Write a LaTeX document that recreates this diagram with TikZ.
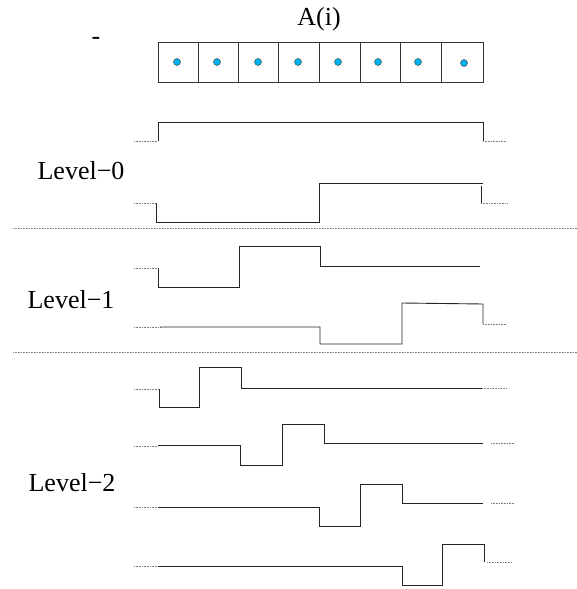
\documentclass[tikz,border=0pt]{standalone}
\usepackage{fontspec}
\setmainfont{Liberation Serif}
\definecolor{dotblue}{RGB}{0,176,240}
\newcommand{\mns}{\symbol{"2212}}
\begin{document}
\begin{tikzpicture}[x=1pt,y=-1pt,
  sig/.style={line width=0.9pt,black!85},
  dots/.style={line width=0.6pt,gray,dash pattern=on 0.8pt off 0.8pt},
  sep/.style={line width=0.6pt,gray,dash pattern=on 0.8pt off 0.8pt},
  lbl/.style={font=\fontsize{26}{30}\selectfont,inner sep=0pt,anchor=base},
  cell/.style={draw=black!80,line width=0.7pt},
  elem/.style={circle,fill=dotblue,draw=black!70,line width=0.5pt,inner sep=0pt,minimum size=7pt}]
\useasboundingbox (0,0) rectangle (577,589);
% array
\node[lbl] (ai) at (319,25) {A(i)};
\node[lbl] (dash) at (96,44) {-};
\draw[cell] (158,42) rectangle (483,82);
\foreach \x in {198,238,278,319,360,400,441} \draw[cell] (\x,42) -- (\x,82);
\foreach \x/\y in {177/62,217/62,258/62,298/62,338/62,378/62,418/62,464/63}
  \node[elem] at (\x,\y) {};
% labels
\node[lbl] (l0) at (81,179) {Level\mns 0};
\node[lbl] (l1) at (71,308) {Level\mns 1};
\node[lbl] (l2) at (72,491) {Level\mns 2};
% separators
\draw[sep] (13,228) -- (577,228);
\draw[sep] (13,352) -- (577,352);
% Level 0
\draw[dots] (134,141) -- (158,141);
\draw[sig] (158,141) -- (158,122) -- (483,122) -- (483,141);
\draw[dots] (483,141) -- (507,141);
\draw[dots] (134,203) -- (156,203);
\draw[sig] (156,203) -- (156,222) -- (319,222) -- (319,183) -- (483,183);
\draw[sig] (481,186) -- (481,203);
\draw[dots] (481,203) -- (507,203);
% Level 1
\draw[dots] (134,268) -- (158,268);
\draw[sig] (158,268) -- (158,287) -- (239,287) -- (239,246) -- (320,246) -- (320,266) -- (480,266);
\draw[dots] (134,327) -- (160,327);
\draw[sig] (160,327) -- (320,327) -- (320,344) -- (402,344) -- (402,303) -- (483,304) -- (483,324);
\draw[dots] (483,324) -- (507,324);
% Level 2
\draw[dots] (134,389) -- (159,389);
\draw[sig] (159,389) -- (159,407) -- (199,407) -- (199,367) -- (241,367) -- (241,388) -- (482,388);
\draw[dots] (482,388) -- (507,388);
\draw[dots] (134,446) -- (158,446);
\draw[sig] (158,445) -- (240,445) -- (240,465) -- (282,465) -- (282,424) -- (324,424) -- (324,443) -- (483,443);
\draw[dots] (491,443) -- (515,443);
\draw[dots] (134,507) -- (158,507);
\draw[sig] (158,507) -- (319,507) -- (319,526) -- (360,526) -- (360,484) -- (402,484) -- (402,503) -- (483,503);
\draw[dots] (491,503) -- (515,503);
\draw[dots] (134,566) -- (158,566);
\draw[sig] (158,566) -- (402,566) -- (402,585) -- (442,585) -- (442,544) -- (484,544) -- (484,562);
\draw[dots] (487,562) -- (512,562);
\end{tikzpicture}
\end{document}
